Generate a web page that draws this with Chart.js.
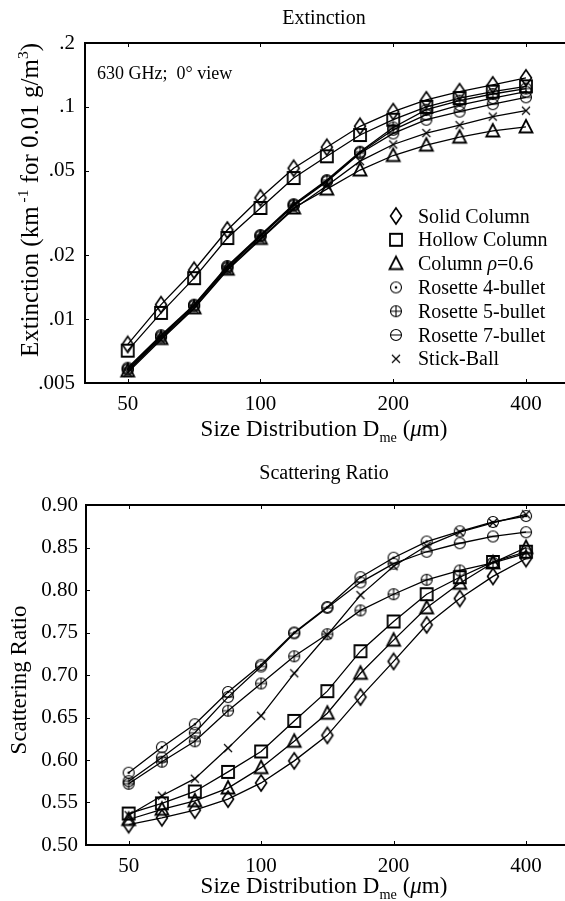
<!DOCTYPE html>
<html>
<head>
<meta charset="utf-8">
<script src="https://cdn.jsdelivr.net/npm/chart.js@4.4.1/dist/chart.umd.min.js"></script>
<style>
  html, body { margin: 0; padding: 0; background: #fff; overflow: hidden; }
  #page { width: 565px; height: 901px; overflow: hidden; position: relative; }
  canvas { display: block; }
</style>
</head>
<body>
<div id="page">
  <canvas id="extChart" width="576" height="450"></canvas>
  <canvas id="scatChart" width="576" height="451"></canvas>
</div>
<script>
// Size distribution D_me (um) sample points
const sizes = [50, 59.5, 70.7, 84.1, 100, 118.9, 141.4, 168.2, 200, 237.8, 282.8, 336.4, 400];
const xTicks = [50, 100, 200, 400];
const extTicks = [0.005, 0.01, 0.02, 0.05, 0.1, 0.2];
const scatTicks = [0.50, 0.55, 0.60, 0.65, 0.70, 0.75, 0.80, 0.85, 0.90];

const habitNames = ['Solid Column', 'Hollow Column', 'Column ρ=0.6', 'Rosette 4-bullet', 'Rosette 5-bullet', 'Rosette 7-bullet', 'Stick-Ball'];
const habitMarkers = ['diamond', 'square', 'triangle', 'circleDot', 'circlePlus', 'circleMinus', 'cross'];

// Extinction (km^-1 for 0.01 g/m^3)
const extSolid   = [0.0076, 0.0117, 0.0170, 0.0263, 0.0373, 0.0514, 0.0645, 0.081, 0.095, 0.108, 0.118, 0.127, 0.137];
const extHollow  = [0.0071, 0.0107, 0.0156, 0.0241, 0.0334, 0.0462, 0.0585, 0.0737, 0.087, 0.100, 0.110, 0.118, 0.125];
const extColumn  = [0.0057, 0.0081, 0.0113, 0.0172, 0.0240, 0.0334, 0.0410, 0.0504, 0.0590, 0.066, 0.072, 0.0770, 0.0805];
const extRos4    = [0.0058, 0.0083, 0.0116, 0.0176, 0.0247, 0.0345, 0.0448, 0.0610, 0.078, 0.092, 0.102, 0.110, 0.118];
const extRos5    = [0.0059, 0.0084, 0.0117, 0.0178, 0.0249, 0.0348, 0.0452, 0.0615, 0.080, 0.097, 0.107, 0.115, 0.122];
const extRos7    = [0.0058, 0.0082, 0.0115, 0.0174, 0.0245, 0.0342, 0.0444, 0.0605, 0.075, 0.087, 0.095, 0.103, 0.111];
const extStick   = [0.0056, 0.0080, 0.0112, 0.0170, 0.0237, 0.0330, 0.0425, 0.0555, 0.0665, 0.0753, 0.082, 0.090, 0.096];

// Scattering ratio
const scatSolid  = [0.524, 0.532, 0.541, 0.554, 0.573, 0.599, 0.629, 0.674, 0.716, 0.759, 0.790, 0.816, 0.837];
const scatHollow = [0.537, 0.549, 0.563, 0.586, 0.610, 0.646, 0.681, 0.728, 0.763, 0.795, 0.815, 0.833, 0.845];
const scatColumn = [0.530, 0.542, 0.552, 0.567, 0.591, 0.622, 0.655, 0.702, 0.741, 0.779, 0.808, 0.832, 0.850];
const scatRos4   = [0.585, 0.615, 0.642, 0.680, 0.712, 0.750, 0.780, 0.815, 0.838, 0.857, 0.869, 0.880, 0.887];
const scatRos5   = [0.572, 0.598, 0.622, 0.658, 0.690, 0.722, 0.748, 0.776, 0.795, 0.812, 0.823, 0.832, 0.843];
const scatRos7   = [0.575, 0.603, 0.632, 0.674, 0.710, 0.749, 0.779, 0.809, 0.831, 0.845, 0.855, 0.863, 0.868];
const scatStick  = [0.535, 0.558, 0.578, 0.614, 0.652, 0.702, 0.747, 0.794, 0.828, 0.852, 0.868, 0.879, 0.889];

const FONT = '"Liberation Serif", "Times New Roman", serif';
Chart.defaults.font.family = FONT;
Chart.defaults.color = '#000';

// hollow black markers drawn on small canvases
function makeMarker(kind) {
    const c = document.createElement('canvas');
    c.width = 18; c.height = 20;
    const g = c.getContext('2d');
    const cx = 9, cy = 10;
    g.strokeStyle = '#000';
    g.fillStyle = '#000';
    g.lineWidth = 1.6;
    g.beginPath();
    if (kind === 'diamond') {
        g.moveTo(cx, cy - 8); g.lineTo(cx + 5.5, cy); g.lineTo(cx, cy + 8); g.lineTo(cx - 5.5, cy); g.closePath();
    } else if (kind === 'square') {
        g.lineWidth = 1.8;
        g.rect(cx - 6, cy - 6, 12, 12);
    } else if (kind === 'triangle') {
        g.lineWidth = 1.8;
        g.moveTo(cx, cy - 7); g.lineTo(cx + 6.5, cy + 5.5); g.lineTo(cx - 6.5, cy + 5.5); g.closePath();
    } else if (kind === 'cross') {
        g.lineWidth = 1.2;
        g.moveTo(cx - 4, cy - 4); g.lineTo(cx + 4, cy + 4);
        g.moveTo(cx + 4, cy - 4); g.lineTo(cx - 4, cy + 4);
    } else {
        g.lineWidth = 1.1;
        g.arc(cx, cy, 5.5, 0, Math.PI * 2);
        if (kind === 'circlePlus') {
            g.moveTo(cx - 5.5, cy); g.lineTo(cx + 5.5, cy);
            g.moveTo(cx, cy - 5.5); g.lineTo(cx, cy + 5.5);
        } else if (kind === 'circleMinus') {
            g.moveTo(cx - 5.5, cy); g.lineTo(cx + 5.5, cy);
        }
    }
    g.stroke();
    if (kind === 'circleDot') {
        g.beginPath(); g.arc(cx, cy, 1.3, 0, Math.PI * 2); g.fill();
    }
    return c;
}
const markers = habitMarkers.map(makeMarker);

function buildDatasets(series) {
    return series.map((vals, i) => ({
        label: habitNames[i],
        data: sizes.map((x, k) => ({ x: x, y: vals[k] })),
        borderColor: '#000',
        borderWidth: 1.3,
        pointStyle: markers[i],
        pointRadius: 6,
        tension: 0,
        fill: false
    }));
}

function setFont(ctx, size, italic) {
    ctx.font = (italic ? 'italic ' : '') + size + 'px ' + FONT;
}

// parts: [text, kind]; kind '', 'sup', 'sub', 'i'
function drawRich(ctx, parts, x, y, size, align) {
    const sizeOf = k => (k === 'sup' || k === 'sub') ? size * 0.62 : size;
    let total = 0;
    parts.forEach(p => { setFont(ctx, sizeOf(p[1]), p[1] === 'i'); total += ctx.measureText(p[0]).width; });
    let cx = align === 'left' ? x : x - total / 2;
    ctx.textAlign = 'left';
    ctx.textBaseline = 'alphabetic';
    parts.forEach(p => {
        setFont(ctx, sizeOf(p[1]), p[1] === 'i');
        const dy = p[1] === 'sup' ? -size * 0.42 : (p[1] === 'sub' ? size * 0.25 : 0);
        ctx.fillText(p[0], cx, y + dy);
        cx += ctx.measureText(p[0]).width;
    });
}

const decor = {
    id: 'decor',
    afterDraw(chart, args, opts) {
        const ctx = chart.ctx;
        const a = chart.chartArea;
        ctx.save();
        ctx.fillStyle = '#000';
        ctx.strokeStyle = '#000';

        // frame (right edge falls outside the visible page, as in the scan)
        ctx.lineWidth = 2;
        ctx.strokeRect(a.left, a.top, a.right - a.left, a.bottom - a.top);

        // small inward ticks
        ctx.lineWidth = 1;
        ctx.beginPath();
        chart.scales.x.ticks.forEach(t => {
            const px = Math.round(chart.scales.x.getPixelForValue(t.value)) + 0.5;
            ctx.moveTo(px, a.bottom); ctx.lineTo(px, a.bottom - 4);
            ctx.moveTo(px, a.top); ctx.lineTo(px, a.top + 4);
        });
        chart.scales.y.ticks.forEach(t => {
            const py = Math.round(chart.scales.y.getPixelForValue(t.value)) + 0.5;
            ctx.moveTo(a.left, py); ctx.lineTo(a.left + 4, py);
        });
        ctx.stroke();

        // titles
        drawRich(ctx, [[opts.title, '']], 324, opts.titleY, 20);
        drawRich(ctx, [['Size Distribution D', ''], ['me', 'sub'], [' (', ''], ['μ', 'i'], ['m)', '']],
            324, opts.xTitleY, 23);
        ctx.save();
        ctx.translate(opts.yTitleX, opts.yTitleMid);
        ctx.rotate(-Math.PI / 2);
        drawRich(ctx, opts.yTitle, 0, 0, opts.yTitleSize);
        ctx.restore();

        if (opts.note) drawRich(ctx, [[opts.note, '']], 97, 79, 18, 'left');

        // legend inside the plot
        if (opts.legend) {
            chart.data.datasets.forEach((ds, i) => {
                const ly = 216 + i * 23.8;
                const m = ds.pointStyle;
                ctx.drawImage(m, 396 - m.width / 2, ly - m.height / 2);
                const txt = ds.label.indexOf('ρ') >= 0
                    ? [['Column ', ''], ['ρ', 'i'], ['=0.6', '']]
                    : [[ds.label, '']];
                drawRich(ctx, txt, 418, ly + 6.5, 20, 'left');
            });
        }
        ctx.restore();
    }
};

function xAxis(height) {
    return {
        type: 'logarithmic',
        min: 40,
        max: 500,
        grid: { display: false, drawTicks: false },
        border: { display: false },
        afterBuildTicks: s => { s.ticks = xTicks.map(v => ({ value: v })); },
        afterFit: s => { s.height = height; },
        ticks: { font: { size: 21 }, padding: 9, maxRotation: 0, autoSkip: false, callback: v => String(v) }
    };
}

new Chart(document.getElementById('extChart'), {
    type: 'line',
    data: { datasets: buildDatasets([extSolid, extHollow, extColumn, extRos4, extRos5, extRos7, extStick]) },
    options: {
        responsive: false,
        animation: false,
        layout: { padding: { top: 43, right: 6, left: 0, bottom: 0 } },
        plugins: {
            legend: { display: false },
            tooltip: { enabled: false },
            decor: {
                title: 'Extinction', titleY: 24, xTitleY: 436, yTitleX: 38, yTitleMid: 200, yTitleSize: 25,
                yTitle: [['Extinction (km', ''], [' -1', 'sup'], [' for 0.01 g/m', ''], ['3', 'sup'], [')', '']],
                note: '630 GHz;  0° view',
                legend: true
            }
        },
        scales: {
            x: xAxis(67),
            y: {
                type: 'logarithmic',
                min: 0.005,
                max: 0.2,
                grid: { display: false, drawTicks: false },
                border: { display: false },
                afterBuildTicks: s => { s.ticks = extTicks.map(v => ({ value: v })); },
                afterFit: s => { s.width = 85; },
                ticks: { font: { size: 21 }, padding: 10, callback: v => String(v).replace(/^0/, '') }
            }
        }
    },
    plugins: [decor]
});

new Chart(document.getElementById('scatChart'), {
    type: 'line',
    data: { datasets: buildDatasets([scatSolid, scatHollow, scatColumn, scatRos4, scatRos5, scatRos7, scatStick]) },
    options: {
        responsive: false,
        animation: false,
        layout: { padding: { top: 55, right: 6, left: 0, bottom: 0 } },
        plugins: {
            legend: { display: false },
            tooltip: { enabled: false },
            decor: {
                title: 'Scattering Ratio', titleY: 29, xTitleY: 443, yTitleX: 26, yTitleMid: 230, yTitleSize: 23,
                yTitle: [['Scattering Ratio', '']],
                legend: false
            }
        },
        scales: {
            x: xAxis(56),
            y: {
                type: 'linear',
                min: 0.5,
                max: 0.9,
                grid: { display: false, drawTicks: false },
                border: { display: false },
                afterBuildTicks: s => { s.ticks = scatTicks.map(v => ({ value: v })); },
                afterFit: s => { s.width = 86; },
                ticks: { font: { size: 21 }, padding: 8, callback: v => v.toFixed(2) }
            }
        }
    },
    plugins: [decor]
});
</script>
</body>
</html>
